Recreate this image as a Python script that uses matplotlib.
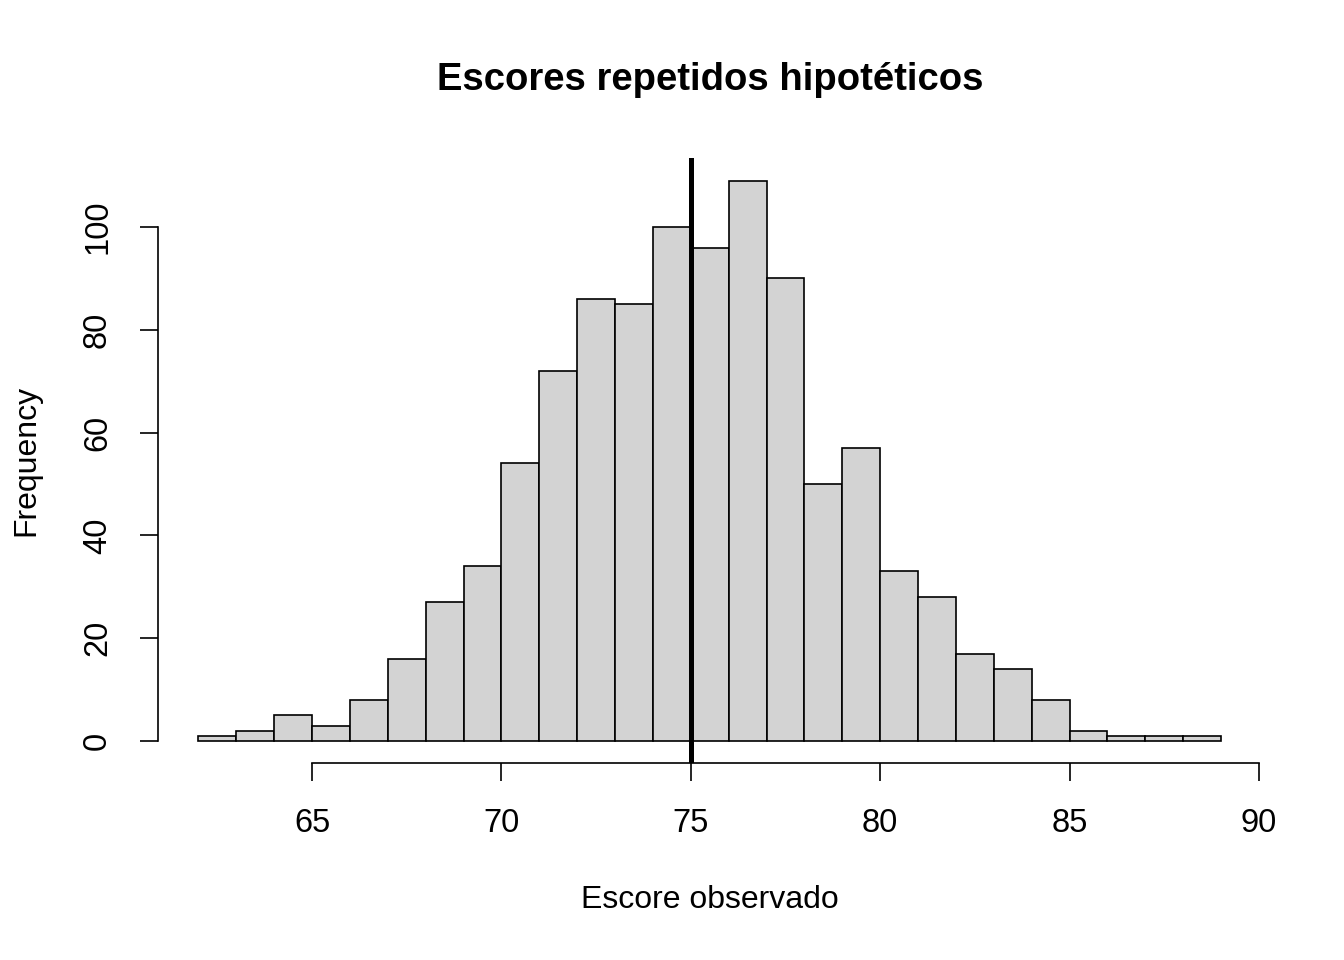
import matplotlib
matplotlib.use("Agg")
import matplotlib.pyplot as plt
import numpy as np

plt.rcParams['font.family'] = ['Liberation Sans', 'DejaVu Sans']

# histogram bins (width 1) and counts
edges = np.arange(62, 90)
counts = [1, 2, 5, 3, 8, 16, 27, 34, 54, 72, 86, 85, 100, 96, 109, 90,
          50, 57, 33, 28, 17, 14, 8, 2, 1, 1, 1]
true_score = 75
xticks = [65, 70, 75, 80, 85, 90]
yticks = [0, 20, 40, 60, 80, 100]

W, H = 1344, 960
fig = plt.figure(figsize=(W/100, H/100), dpi=100)
ax = fig.add_axes([157.5/W, 1-763.4/H, (1262-157.5)/W, (763.4-158.3)/H])

ax.bar(edges[:-1], counts, width=1, align='edge', color='#D3D3D3',
       edgecolor='black', linewidth=1.2)
ax.axvline(true_score, color='black', linewidth=3.6)

xr = edges[-1]-edges[0]; yr = max(counts)
ax.set_xlim(edges[0]-0.04*xr, edges[-1]+0.04*xr)
ax.set_ylim(-0.04*yr, yr*1.04)

for s in ['top', 'right']:
    ax.spines[s].set_visible(False)
ax.spines['left'].set_bounds(0, 100)
ax.spines['bottom'].set_bounds(65, 90)
for s in ['left', 'bottom']:
    ax.spines[s].set_linewidth(1.2)

ax.set_xticks(xticks)
ax.set_yticks(yticks)
ax.set_yticklabels([str(v) for v in yticks], rotation=90, va='center')
ax.tick_params(length=13, width=1.2, labelsize=23.5, pad=19)

fig.text(709.8/W, 1-80/H, 'Escores repetidos hipotéticos', ha='center',
         va='center', fontsize=27.5, fontweight='bold')
fig.text(709.8/W, 1-900/H, 'Escore observado', ha='center', va='center',
         fontsize=23)
fig.text(26/W, 1-460/H, 'Frequency', ha='center', va='center',
         fontsize=23, rotation=90)

fig.savefig('out.png', dpi=100)
